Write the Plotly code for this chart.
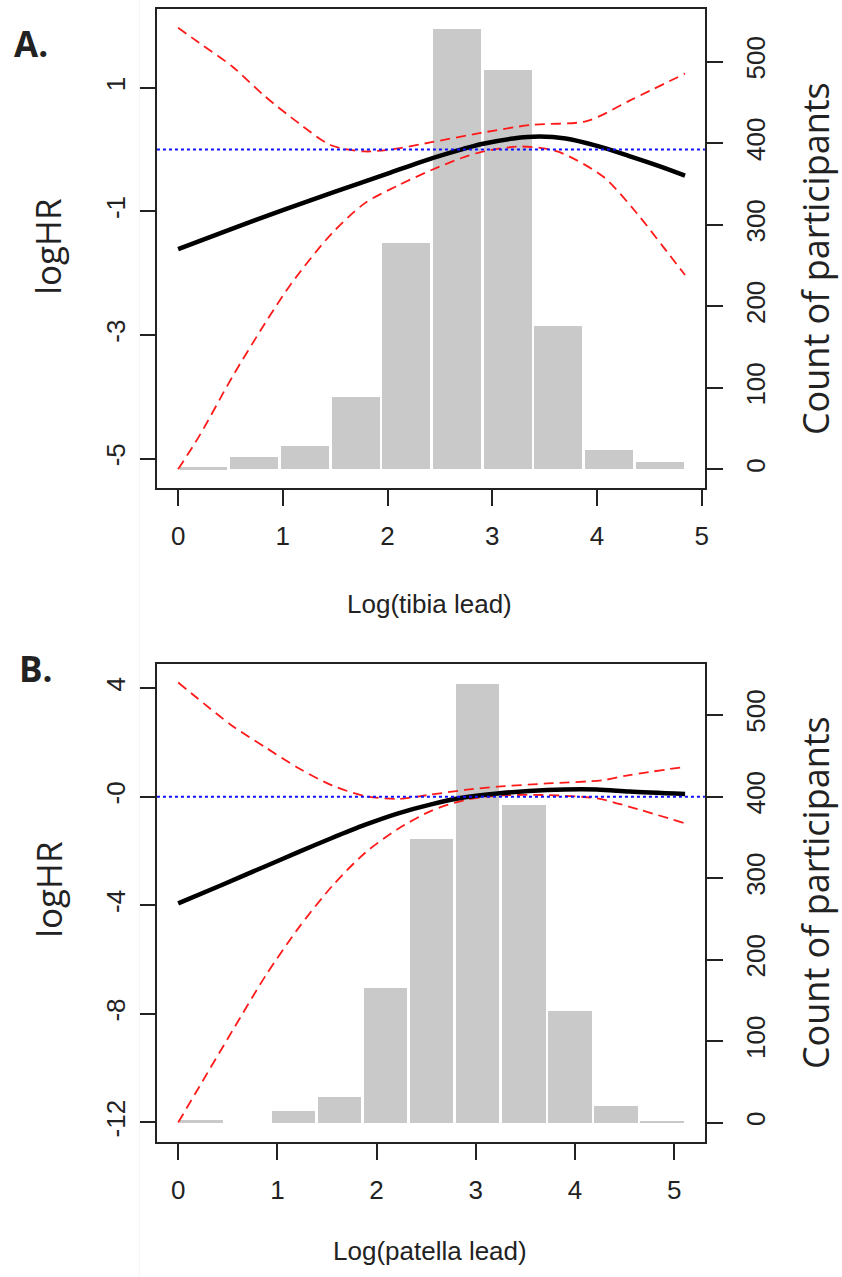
import plotly.graph_objects as go

W, H = 842, 1277

# ---------------- Panel A data (tibia) ----------------
a_bin_start = 0.0
a_bin_width = 0.484
a_counts = [2, 15, 28, 88, 277, 540, 489, 175, 23, 9]

a_fit_x = [0, 0.5, 1.0, 1.5, 2.0, 2.3, 2.6, 2.9, 3.2, 3.45, 3.7, 4.0, 4.3, 4.6, 4.84]
a_fit_y = [-1.61, -1.29, -0.98, -0.68, -0.39, -0.21, -0.05, 0.09, 0.18, 0.21, 0.18, 0.06, -0.10, -0.27, -0.42]

a_up_x = [0, 0.2, 0.52, 0.83, 1.15, 1.46, 1.78, 2.1, 2.42, 2.89, 3.37, 3.9, 4.32, 4.84]
a_up_y = [1.97, 1.73, 1.34, 0.86, 0.43, 0.07, -0.03, 0.02, 0.12, 0.27, 0.40, 0.46, 0.80, 1.23]

a_lo_x = [0, 0.2, 0.52, 0.83, 1.08, 1.46, 1.78, 2.1, 2.42, 2.7, 2.89, 3.27, 3.62, 4.06, 4.38, 4.63, 4.84]
a_lo_y = [-5.17, -4.64, -3.67, -2.81, -2.17, -1.37, -0.87, -0.58, -0.33, -0.14, -0.04, 0.05, -0.03, -0.44, -1.03, -1.57, -2.03]

# ---------------- Panel B data (patella) ----------------
b_bin_start = 0.0
b_bin_width = 0.4645
b_counts = [3, 0, 14, 31, 165, 348, 538, 390, 137, 21, 1]

b_fit_x = [0, 0.44, 0.88, 1.21, 1.55, 1.88, 2.21, 2.55, 2.89, 3.22, 3.72, 4.22, 4.55, 5.11]
b_fit_y = [-3.93, -3.25, -2.56, -2.04, -1.52, -1.04, -0.62, -0.28, -0.02, 0.12, 0.25, 0.27, 0.19, 0.10]

b_up_x = [0, 0.55, 0.88, 1.21, 1.55, 1.88, 2.21, 2.55, 2.89, 3.22, 3.72, 4.28, 4.55, 5.11]
b_up_y = [4.21, 2.6, 1.82, 1.06, 0.42, 0.03, -0.08, 0.08, 0.25, 0.37, 0.49, 0.61, 0.80, 1.10]

b_lo_x = [0, 0.21, 0.55, 0.88, 1.21, 1.55, 1.88, 2.21, 2.55, 2.89, 3.22, 3.72, 4.22, 4.55, 5.11]
b_lo_y = [-12.0, -10.7, -8.6, -6.6, -4.85, -3.3, -2.08, -1.2, -0.52, -0.12, 0.04, 0.06, -0.06, -0.37, -0.98]

# tick labels
a_left_ticks = [1, -1, -3, -5]
a_left_text = ["1", "-1", "-3", "-5"]
b_left_ticks = [4, 0, -4, -8, -12]
b_left_text = ["4", "-0", "-4", "-8", "-12"]
count_ticks = [0, 100, 200, 300, 400, 500]
x_ticks = [0, 1, 2, 3, 4, 5]

BAR = "#c9c9c9"
RED = "#ff1a1a"
AX = "#222222"
TICKFONT = dict(family="Liberation Sans, Arial", size=26, color=AX)


def centers(start, width, n):
    return [start + width * (i + 0.5) for i in range(n)]


fig = go.Figure()

dash_red = dict(color=RED, width=1.8, dash="10px,6px", shape="spline", smoothing=0.8)
solid_blk = dict(color="black", width=4.5, shape="spline", smoothing=0.8)

# Panel A
fig.add_trace(go.Bar(x=centers(a_bin_start, a_bin_width, len(a_counts)), y=a_counts,
                     width=a_bin_width - 0.026, marker=dict(color=BAR, line=dict(width=0)),
                     xaxis="x", yaxis="y", showlegend=False))
fig.add_trace(go.Scatter(x=a_up_x, y=a_up_y, mode="lines", line=dash_red, xaxis="x", yaxis="y2", showlegend=False))
fig.add_trace(go.Scatter(x=a_lo_x, y=a_lo_y, mode="lines", line=dash_red, xaxis="x", yaxis="y2", showlegend=False))
fig.add_trace(go.Scatter(x=a_fit_x, y=a_fit_y, mode="lines", line=solid_blk, xaxis="x", yaxis="y2", showlegend=False))

# Panel B
fig.add_trace(go.Bar(x=centers(b_bin_start, b_bin_width, len(b_counts)), y=b_counts,
                     width=b_bin_width - 0.027, marker=dict(color=BAR, line=dict(width=0)),
                     xaxis="x2", yaxis="y3", showlegend=False))
fig.add_trace(go.Scatter(x=b_up_x, y=b_up_y, mode="lines", line=dash_red, xaxis="x2", yaxis="y4", showlegend=False))
fig.add_trace(go.Scatter(x=b_lo_x, y=b_lo_y, mode="lines", line=dash_red, xaxis="x2", yaxis="y4", showlegend=False))
fig.add_trace(go.Scatter(x=b_fit_x, y=b_fit_y, mode="lines", line=solid_blk, xaxis="x2", yaxis="y4", showlegend=False))

xdom = [157.7 / W, 708.3 / W]
ydomA = [1 - 488.3 / H, 1 - 9.3 / H]
ydomB = [1 - 1142.3 / H, 1 - 664.0 / H]

common_axis = dict(showgrid=False, zeroline=False, ticks="outside", ticklen=16, tickwidth=2,
                   tickcolor=AX, tickfont=TICKFONT)

fig.update_layout(
    width=W, height=H, margin=dict(l=0, r=0, t=0, b=0),
    paper_bgcolor="white", plot_bgcolor="white", bargap=0,
    xaxis=dict(domain=xdom, anchor="y", range=[-0.202, 5.03], tickvals=x_ticks, ticklabelstandoff=7,
               showline=True, mirror=True, linewidth=2, linecolor=AX, **common_axis),
    yaxis=dict(domain=ydomA, anchor="x", side="right", range=[-23.3, 564.3], tickvals=count_ticks,
               ticklabelstandoff=11, tickangle=-90, showline=True, mirror=True, linewidth=2, linecolor=AX,
               **common_axis),
    yaxis2=dict(overlaying="y", anchor="x", side="left", range=[-5.48, 2.27], tickvals=a_left_ticks,
                ticklabelstandoff=5, ticktext=a_left_text, tickangle=-90, showline=False, **common_axis),
    xaxis2=dict(domain=xdom, anchor="y3", range=[-0.214, 5.31], tickvals=x_ticks, ticklabelstandoff=7,
                showline=True, mirror=True, linewidth=2, linecolor=AX, **common_axis),
    yaxis3=dict(domain=ydomB, anchor="x2", side="right", range=[-24.0, 562.5], tickvals=count_ticks,
                ticklabelstandoff=11, tickangle=-90, showline=True, mirror=True, linewidth=2, linecolor=AX,
                **common_axis),
    yaxis4=dict(overlaying="y3", anchor="x2", side="left", range=[-12.73, 4.89], tickvals=b_left_ticks,
                ticklabelstandoff=5, ticktext=b_left_text, tickangle=-90, showline=False, **common_axis),
)

# reference lines at logHR = 0
for yr, xr in (("y2", "x"), ("y4", "x2")):
    fig.add_shape(type="line", xref=f"{xr} domain", x0=0, x1=1, yref=yr, y0=0, y1=0,
                  line=dict(color="#1010ff", width=2, dash="3px,3px"), layer="above")

# faint left edge of the pasted image
fig.add_shape(type="line", xref="paper", yref="paper", x0=140 / W, x1=140 / W, y0=0, y1=1,
              line=dict(color="#f4f4f4", width=1), layer="below")


def ann(text, xp, yp, size, family, angle=0, weight="normal", color=AX):
    fig.add_annotation(text=text, x=xp / W, y=1 - yp / H, xref="paper", yref="paper",
                       xanchor="center", yanchor="middle", showarrow=False, textangle=angle,
                       font=dict(family=family, size=size, color=color, weight=weight))


OPEN = "Open Sans, Noto Sans, sans-serif"
ann("A.", 31, 44, 35, OPEN, weight="bold", color="#222222")
ann("B.", 36, 669, 35, OPEN, weight="bold", color="#222222")
ann("logHR", 48, 246, 35, OPEN, angle=-90, color="#222222")
ann("logHR", 48, 889, 35, OPEN, angle=-90, color="#222222")
ann("Count of participants", 819, 259, 36, OPEN, angle=-90, color="#222222")
ann("Count of participants", 819, 893, 36, OPEN, angle=-90, color="#222222")
ann("Log(tibia lead)", 432, 604, 26, "Liberation Sans, Arial")
ann("Log(patella lead)", 432, 1251, 26, "Liberation Sans, Arial")

fig.write_html("out.html")
